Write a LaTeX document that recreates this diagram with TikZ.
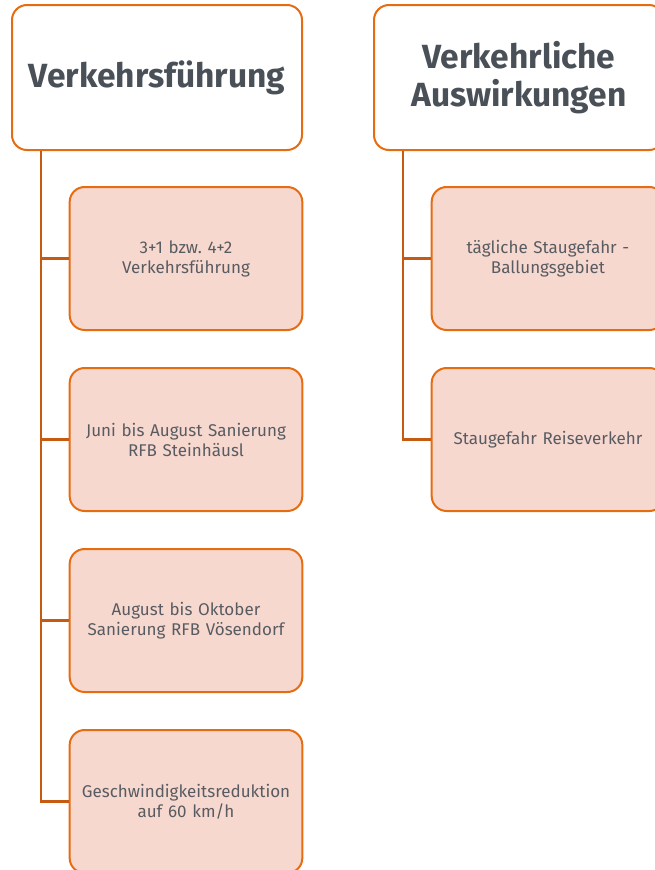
\documentclass[tikz,border=0pt]{standalone}
\usepackage{fontspec}
\setmainfont{Fira Sans}
\frenchspacing
\definecolor{boxline}{HTML}{E66C12}
\definecolor{stemline}{HTML}{C55A11}
\definecolor{boxfill}{HTML}{F7D8CF}
\definecolor{headtext}{RGB}{73,80,87}
\definecolor{itemtext}{RGB}{88,92,98}

\begin{document}
\begin{tikzpicture}[x=1pt, y=-1pt,
		head/.style={draw=boxline, line width=2pt, fill=white, rounded corners=15pt,
			minimum width=290pt, minimum height=145pt, align=center, text=headtext,
			font=\fontsize{33.5}{38}\selectfont\bfseries},
		item/.style={draw=boxline, line width=2pt, fill=boxfill, rounded corners=15pt,
			minimum width=232pt, minimum height=143pt, text width=226pt, align=center,
			text=itemtext, font=\fontsize{17}{20}\selectfont},
		stem/.style={draw=stemline, line width=2.4pt}]
				\useasboundingbox (0,0) rectangle (655,870);
				\begin{scope}
				\clip (0,0) rectangle (655,870);
				% left column
				\node[head] (H1) at (157,77.5) {Verkehrsführung};
				\node[item] (A1) at (186,258.5) {3+1 bzw. 4+2\\Verkehrsführung};
				\node[item] (A2) at (186,439.5) {Juni bis August Sanierung\\RFB Steinhäusl};
				\node[item] (A3) at (186,620.5) {August bis Oktober\\Sanierung RFB Vösendorf};
				\node[item] (A4) at (186,801.5) {Geschwindigkeitsreduktion\\auf 60 km/h};
				\foreach \n in {A1,A2,A3,A4}
					\draw [stem] ([xshift=30pt]H1.south west) |- (\n.west);
				% right column
				\node[head] (H2) at (519,77.5) {Verkehrliche\\Auswirkungen};
				\node[item] (B1) at (548,258.5) {tägliche Staugefahr -\\Ballungsgebiet};
				\node[item] (B2) at (548,439.5) {Staugefahr Reiseverkehr};
				\foreach \n in {B1,B2}
					\draw [stem] ([xshift=30pt]H2.south west) |- (\n.west);
				\end{scope}
		\end{tikzpicture}
\end{document}
